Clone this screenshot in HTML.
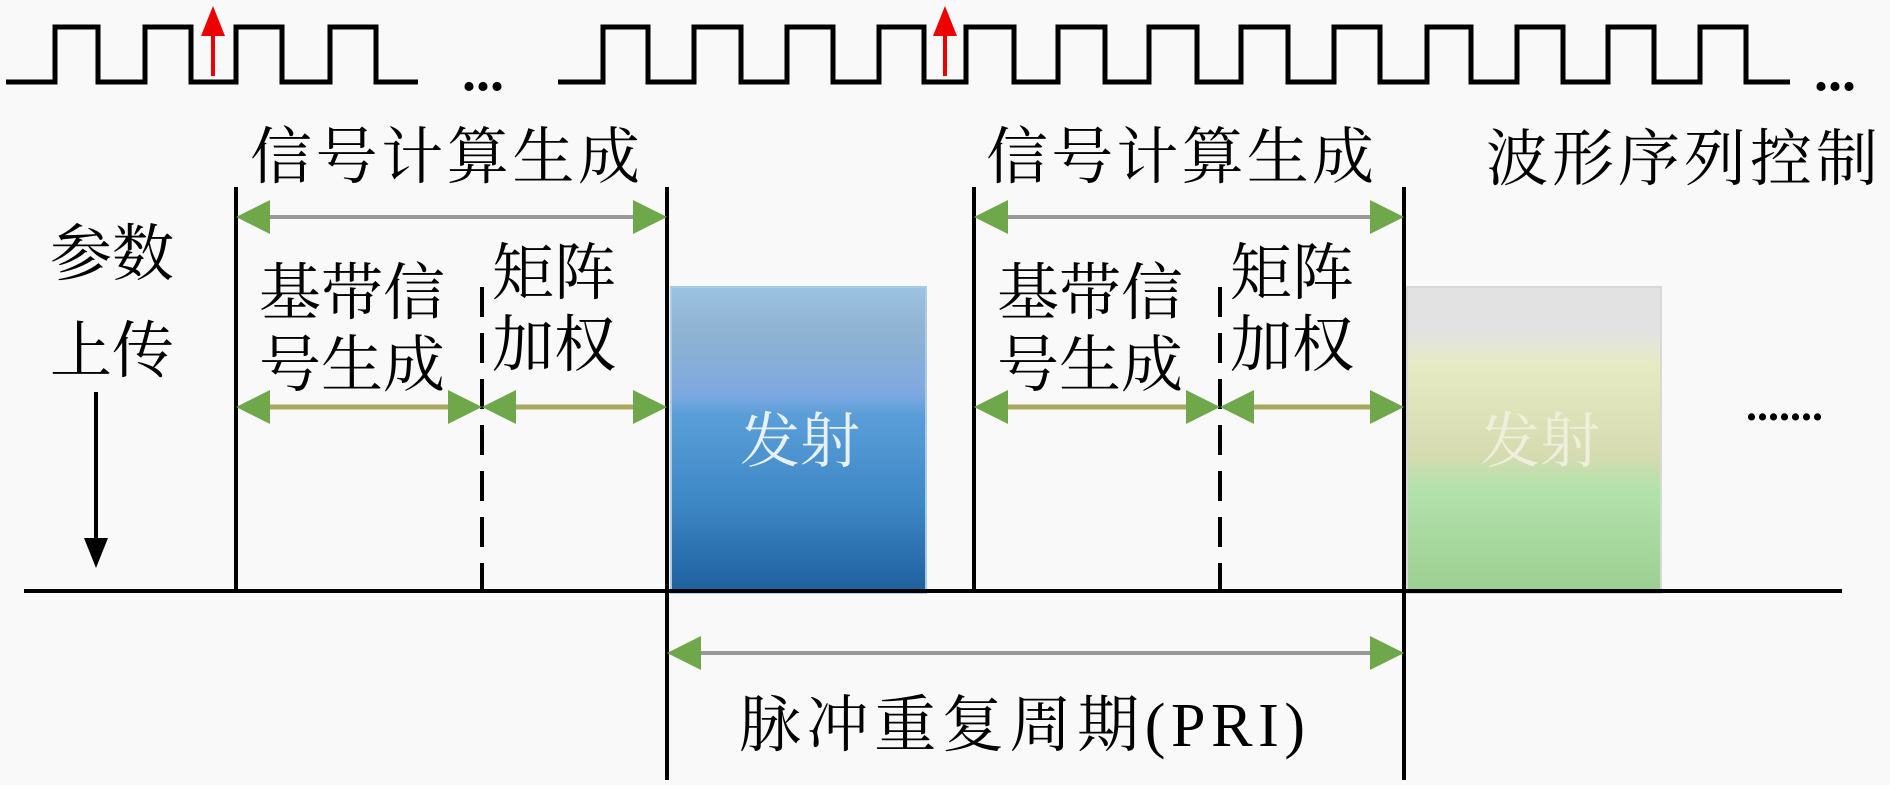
<!DOCTYPE html>
<html><head><meta charset="utf-8"><style>
html,body{margin:0;padding:0;background:#f9f9f9}
svg text{font-family:"Liberation Serif","Noto Serif CJK SC",serif;fill:#000}
</style></head><body>
<svg width="1890" height="780" viewBox="0 0 1890 780" xmlns="http://www.w3.org/2000/svg">
<defs>
<linearGradient id="bl" x1="0" y1="0" x2="0" y2="1">
<stop offset="0" stop-color="#9cc2e2"/><stop offset="0.15" stop-color="#8fb3d2"/>
<stop offset="0.35" stop-color="#7fa8e0"/><stop offset="0.42" stop-color="#5a9ed8"/>
<stop offset="0.7" stop-color="#3e88c6"/><stop offset="1" stop-color="#1f5f9e"/></linearGradient>
<linearGradient id="gr" x1="0" y1="0" x2="0" y2="1">
<stop offset="0" stop-color="#e2e2e2"/><stop offset="0.15" stop-color="#e2e2e2"/>
<stop offset="0.25" stop-color="#e6ebc4"/><stop offset="0.55" stop-color="#d6dbb0"/>
<stop offset="0.65" stop-color="#b4e2ac"/><stop offset="1" stop-color="#9ccf92"/></linearGradient>
<g id="ah"><polygon points="0,0 -34,-17 -34,17" fill="#6fa84a"/></g>
</defs>
<g fill="none" stroke="#000" stroke-width="5" stroke-linejoin="miter">
<polyline points="6,82 55,82 55,27 98,27 98,82 145,82 145,27 191,27 191,82 236,82 236,27 282,27 282,82 330,82 330,27 376,27 376,82 418,82"/>
<polyline points="558,82 603,82 603,27 648,27 648,82 694,82 694,27 741,27 741,82 787,82 787,27 833,27 833,82 879,82 879,27 924,27 924,82 966,82 966,27 1014,27 1014,82 1058,82 1058,27 1105,27 1105,82 1149,82 1149,27 1197,27 1197,82 1241,82 1241,27 1288,27 1288,82 1334,82 1334,27 1380,27 1380,82 1427,82 1427,27 1471,27 1471,82 1517,82 1517,27 1563,27 1563,82 1608,82 1608,27 1654,27 1654,82 1700,82 1700,27 1746,27 1746,82 1790,82"/>
</g>
<text x="462" y="90" font-size="56" font-weight="bold">...</text>
<text x="1814" y="90" font-size="56" font-weight="bold">...</text>
<g fill="#e00" stroke="none">
<polygon points="213,6 201,36 225,36"/><rect x="211" y="34" width="4" height="42"/>
<polygon points="945,6 933,36 957,36"/><rect x="943" y="34" width="4" height="42"/>
</g>
<rect x="671" y="287" width="255" height="306" fill="url(#bl)" stroke="#a8cbe8" stroke-width="2"/>
<rect x="1407" y="287" width="254" height="306" fill="url(#gr)" stroke="#d8d8d8" stroke-width="2"/>
<text x="800" y="462" font-size="60" text-anchor="middle" style="fill:#e8f0f8">发射</text>
<text x="1540" y="462" font-size="60" text-anchor="middle" style="fill:#eef0dc">发射</text>
<g stroke="#000" stroke-width="4">
<line x1="24" y1="591" x2="1842" y2="591"/>
<line x1="236" y1="187" x2="236" y2="591"/>
<line x1="667" y1="187" x2="667" y2="780"/>
<line x1="974" y1="187" x2="974" y2="591"/>
<line x1="1404" y1="187" x2="1404" y2="780"/>
<line x1="482" y1="287" x2="482" y2="591" stroke-dasharray="30,16"/>
<line x1="1220" y1="287" x2="1220" y2="591" stroke-dasharray="30,16"/>
<line x1="96" y1="392" x2="96" y2="540"/>
</g>
<polygon points="96,568 84,538 108,538" fill="#000"/>
<g stroke="#999" stroke-width="4">
<line x1="250" y1="217" x2="655" y2="217"/>
<line x1="988" y1="217" x2="1392" y2="217"/>
<line x1="681" y1="653" x2="1392" y2="653"/>
</g>
<g stroke="#a8a860" stroke-width="5">
<line x1="250" y1="407" x2="470" y2="407"/><line x1="494" y1="407" x2="655" y2="407"/>
<line x1="988" y1="407" x2="1208" y2="407"/><line x1="1232" y1="407" x2="1392" y2="407"/>
</g>
<use href="#ah" transform="translate(667,217)"/><use href="#ah" transform="translate(236,217) scale(-1,1)"/>
<use href="#ah" transform="translate(1404,217)"/><use href="#ah" transform="translate(974,217) scale(-1,1)"/>
<use href="#ah" transform="translate(1404,653)"/><use href="#ah" transform="translate(667,653) scale(-1,1)"/>
<use href="#ah" transform="translate(482,407)"/><use href="#ah" transform="translate(236,407) scale(-1,1)"/>
<use href="#ah" transform="translate(667,407)"/><use href="#ah" transform="translate(482,407) scale(-1,1)"/>
<use href="#ah" transform="translate(1220,407)"/><use href="#ah" transform="translate(974,407) scale(-1,1)"/>
<use href="#ah" transform="translate(1404,407)"/><use href="#ah" transform="translate(1220,407) scale(-1,1)"/>
<g font-size="62">
<text x="250" y="178" textLength="390">信号计算生成</text>
<text x="986" y="178" textLength="388">信号计算生成</text>
<text x="1486" y="180" textLength="392">波形序列控制</text>
<text x="50" y="275">参数</text>
<text x="50" y="372">上传</text>
<text x="259" y="314">基带信</text>
<text x="259" y="386">号生成</text>
<text x="492" y="294">矩阵</text>
<text x="492" y="366">加权</text>
<text x="997" y="314">基带信</text>
<text x="997" y="386">号生成</text>
<text x="1230" y="294">矩阵</text>
<text x="1230" y="366">加权</text>
<text x="739" y="746" textLength="566">脉冲重复周期(PRI)</text>
</g>
<text x="1746" y="420" font-size="44" font-weight="bold">.......</text>
</svg>
</body></html>
